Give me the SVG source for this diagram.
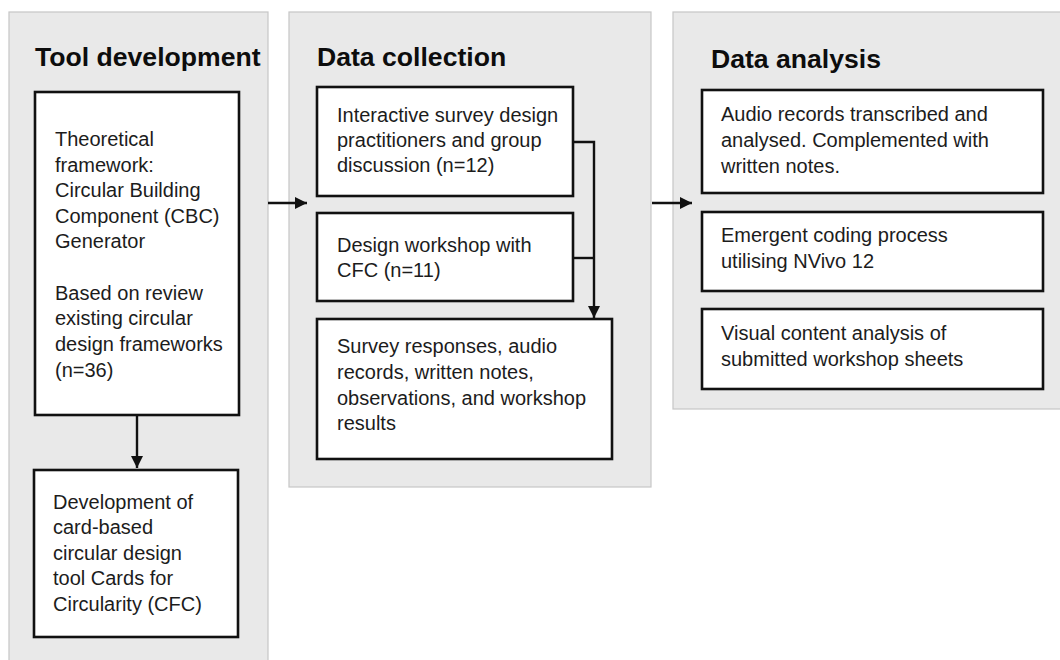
<svg xmlns="http://www.w3.org/2000/svg" width="1060" height="660" viewBox="0 0 1060 660">
  <style>
    .panel { fill: #e9e9e9; stroke: #c6c6c6; stroke-width: 1.2; }
    .box { fill: #ffffff; stroke: #111111; stroke-width: 2.6; }
    .title { font-family: "Liberation Sans", Arial, sans-serif; font-weight: bold; font-size: 26.6px; fill: #0d0d0d; }
    .txt { font-family: "Liberation Sans", Arial, sans-serif; font-size: 20px; fill: #1c1c1c; }
    .wire { fill: none; stroke: #111111; stroke-width: 2.4; }
  </style>
  <defs>
    <marker id="arrow" viewBox="0 0 12 12" refX="12" refY="6" markerWidth="12" markerHeight="12" markerUnits="userSpaceOnUse" orient="auto">
      <path d="M0,0 L12,6 L0,12 Z" fill="#111111"/>
    </marker>
  </defs>
  <rect width="1060" height="660" fill="#ffffff"/>

  <!-- Stage 1: tool development -->
  <g id="panel-tool">
    <rect class="panel" x="9" y="12" width="259" height="660"/>
    <text class="title" x="35" y="66">Tool development</text>
  </g>
  <g id="node-framework">
    <rect class="box" x="35" y="92" width="204" height="323"/>
    <text class="txt" x="55" y="146">
      <tspan x="55" dy="0">Theoretical</tspan>
      <tspan x="55" dy="25.6">framework:</tspan>
      <tspan x="55" dy="25.6">Circular Building</tspan>
      <tspan x="55" dy="25.6">Component (CBC)</tspan>
      <tspan x="55" dy="25.6">Generator</tspan>
      <tspan x="55" dy="51.4">Based on review</tspan>
      <tspan x="55" dy="25.6">existing circular</tspan>
      <tspan x="55" dy="25.6">design frameworks</tspan>
      <tspan x="55" dy="25.6">(n=36)</tspan>
    </text>
  </g>
  <g id="node-cards">
    <rect class="box" x="34" y="470" width="204" height="167"/>
    <text class="txt" x="53" y="509">
      <tspan x="53" dy="0">Development of</tspan>
      <tspan x="53" dy="25.4">card-based</tspan>
      <tspan x="53" dy="25.4">circular design</tspan>
      <tspan x="53" dy="25.4">tool Cards for</tspan>
      <tspan x="53" dy="25.4">Circularity (CFC)</tspan>
    </text>
  </g>

  <!-- Stage 2: data collection -->
  <g id="panel-collection">
    <rect class="panel" x="289" y="12" width="362" height="475"/>
    <text class="title" x="317" y="66">Data collection</text>
  </g>
  <g id="node-survey">
    <rect class="box" x="317" y="87" width="256" height="109"/>
    <text class="txt" x="337" y="122">
      <tspan x="337" dy="0">Interactive survey design</tspan>
      <tspan x="337" dy="25">practitioners and group</tspan>
      <tspan x="337" dy="25">discussion (n=12)</tspan>
    </text>
  </g>
  <g id="node-workshop">
    <rect class="box" x="317" y="213" width="256" height="88"/>
    <text class="txt" x="337" y="252">
      <tspan x="337" dy="0">Design workshop with</tspan>
      <tspan x="337" dy="25">CFC (n=11)</tspan>
    </text>
  </g>
  <g id="node-responses">
    <rect class="box" x="317" y="319" width="295" height="140"/>
    <text class="txt" x="337" y="353">
      <tspan x="337" dy="0">Survey responses, audio</tspan>
      <tspan x="337" dy="25.8">records, written notes,</tspan>
      <tspan x="337" dy="25.8">observations, and workshop</tspan>
      <tspan x="337" dy="25.8">results</tspan>
    </text>
  </g>

  <!-- Stage 3: data analysis -->
  <g id="panel-analysis">
    <rect class="panel" x="673" y="12" width="400" height="397"/>
    <text class="title" x="711" y="68">Data analysis</text>
  </g>
  <g id="node-transcribed">
    <rect class="box" x="702" y="90" width="341" height="103"/>
    <text class="txt" x="721" y="121">
      <tspan x="721" dy="0">Audio records transcribed and</tspan>
      <tspan x="721" dy="26">analysed. Complemented with</tspan>
      <tspan x="721" dy="26">written notes.</tspan>
    </text>
  </g>
  <g id="node-coding">
    <rect class="box" x="702" y="212" width="341" height="79"/>
    <text class="txt" x="721" y="242">
      <tspan x="721" dy="0">Emergent coding process</tspan>
      <tspan x="721" dy="26">utilising NVivo 12</tspan>
    </text>
  </g>
  <g id="node-visual">
    <rect class="box" x="702" y="309" width="341" height="80"/>
    <text class="txt" x="721" y="340">
      <tspan x="721" dy="0">Visual content analysis of</tspan>
      <tspan x="721" dy="26">submitted workshop sheets</tspan>
    </text>
  </g>

  <!-- Connectors -->
  <g id="connectors">
    <line class="wire" x1="137" y1="416" x2="137" y2="468" marker-end="url(#arrow)"/>
    <line class="wire" x1="268" y1="203" x2="307" y2="203" marker-end="url(#arrow)"/>
    <polyline class="wire" points="574,142 594,142 594,318" marker-end="url(#arrow)"/>
    <line class="wire" x1="574" y1="258" x2="594" y2="258"/>
    <line class="wire" x1="652" y1="203" x2="692" y2="203" marker-end="url(#arrow)"/>
  </g>
</svg>
